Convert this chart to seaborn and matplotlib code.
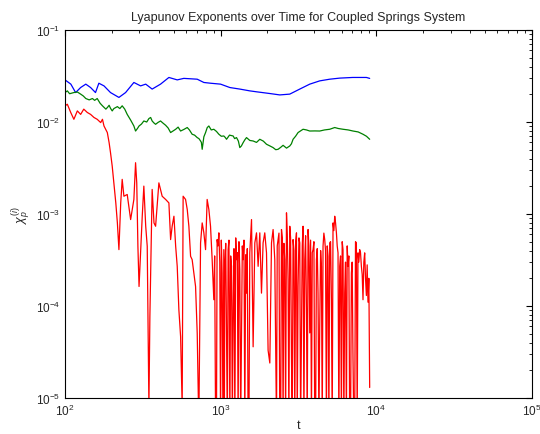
import matplotlib
matplotlib.use("Agg")
import matplotlib.pyplot as plt
import seaborn as sns

# values (t, exponent estimate)
t_blue = [100, 109, 117, 126, 136, 146, 157, 165, 178, 196, 222, 245, 277, 306, 330,
          363, 411, 465, 526, 580, 707, 780, 861, 999, 1146, 1328, 1539, 1700, 2070,
          2399, 2781, 3224, 3737, 4332, 5022, 5822, 7056, 8640, 9070]
v_blue = [0.0287, 0.0258, 0.0209, 0.0237, 0.0258, 0.0237, 0.0209, 0.0264, 0.0247,
          0.0209, 0.0185, 0.0209, 0.0269, 0.0247, 0.0258, 0.0228, 0.0258, 0.0305,
          0.0287, 0.0298, 0.0292, 0.0269, 0.0264, 0.0258, 0.0237, 0.0228, 0.0218,
          0.0213, 0.0204, 0.0197, 0.0201, 0.0228, 0.0258, 0.0280, 0.0292, 0.0300,
          0.0305, 0.0305, 0.0298]

t_green = [100, 103.5, 107, 114, 120, 126, 131, 136, 143, 150, 155, 161, 168, 174, 183,
           188, 192, 196, 201, 206, 217, 225, 233, 242, 251, 264, 270, 277, 284, 292,
           299, 310, 321, 335, 346, 355, 363, 372, 382, 396, 411, 427, 443, 460, 477,
           495, 514, 533, 553, 580, 610, 630, 656, 680, 707, 725, 743, 752, 761, 780,
           800, 820, 840, 870, 904, 940, 974, 1010, 1048, 1070, 1091, 1140, 1203, 1230,
           1265, 1300, 1328, 1360, 1395, 1430, 1466, 1540, 1617, 1700, 1785, 1880, 1971,
           2070, 2173, 2260, 2339, 2430, 2519, 2650, 2781, 2850, 2920, 3030, 3144, 3260,
           3385, 3560, 3737, 4030, 4332, 4650, 5022, 5408, 5700, 6113, 6600, 7088, 7650,
           8217, 8650, 9070]
v_green = [0.0209, 0.0218, 0.0203, 0.0209, 0.0212, 0.0201, 0.0192, 0.0180, 0.0174,
           0.0180, 0.0172, 0.0180, 0.0160, 0.0150, 0.0138, 0.0145, 0.0152, 0.0141,
           0.0132, 0.0140, 0.0147, 0.0140, 0.0150, 0.0138, 0.0121, 0.0105, 0.0098,
           0.00905, 0.00798, 0.0085, 0.00905, 0.0095, 0.01026, 0.0100, 0.0109, 0.0112,
           0.01026, 0.0098, 0.00944, 0.0099, 0.01026, 0.0097, 0.00922, 0.0086, 0.00768,
           0.0080, 0.00834, 0.0088, 0.00798, 0.0083, 0.00871, 0.0082, 0.00736, 0.0072,
           0.00677, 0.0066, 0.00622, 0.0060, 0.00505, 0.0069, 0.00768, 0.0087, 0.00905,
           0.0082, 0.00834, 0.0079, 0.00736, 0.0070, 0.00705, 0.0068, 0.00649, 0.0072,
           0.00705, 0.0066, 0.00677, 0.0062, 0.00527, 0.0055, 0.00597, 0.0064, 0.00677,
           0.0063, 0.00622, 0.0060, 0.00649, 0.0062, 0.00573, 0.0055, 0.00527, 0.0050,
           0.00505, 0.0053, 0.00558, 0.0052, 0.00549, 0.0058, 0.00649, 0.0070, 0.00768,
           0.0080, 0.00834, 0.0082, 0.00798, 0.0080, 0.00798, 0.0082, 0.00834, 0.00871,
           0.0085, 0.00834, 0.0082, 0.00798, 0.0078, 0.00736, 0.0070, 0.00649]

t_red = [100, 103.5, 108.8, 114, 120, 126, 132, 139, 146, 153.5, 161, 169.5, 174, 178,
         187, 192, 196, 201, 206, 212, 217, 222, 228, 233, 239, 251, 264, 277, 284, 289,
         294, 299, 313.5, 321, 330, 337.5, 346, 351, 363, 373, 382, 401, 421, 443, 465,
         477, 488, 501, 514, 526, 539, 553, 566, 574, 595, 610, 625, 641, 656, 673, 690,
         707, 724, 743, 761, 780, 800, 819, 840, 861, 882, 904, 928, 949, 974, 999,
         1022, 1048, 1064, 1091, 1117, 1146, 1175, 1203, 1234, 1265, 1295, 1328, 1362,
         1395, 1430, 1466, 1501, 1539, 1579, 1617, 1658, 1700, 1741, 1785, 1830, 1874,
         1921, 1971, 2018, 2070, 2122, 2173, 2228, 2285, 2339, 2399, 2460, 2519, 2583,
         2649, 2712, 2781, 2852, 2920, 2995, 3071, 3144, 3224, 3306, 3385, 3471, 3560,
         3645, 3737, 3832, 3924, 4023, 4125, 4224, 4332, 4442, 4549, 4664, 4783, 4898,
         5022, 5150, 5274, 5408, 5545, 5678, 5822, 5970, 6113, 6268, 6427, 6581, 6748,
         6920, 7088, 7265, 7450, 7630, 7823, 8022, 8217, 8424, 8640, 8845, 9070]
v_red = [0.0150, 0.0156, 0.0127, 0.0107, 0.0132, 0.0121, 0.0138, 0.0127, 0.0121,
         0.0112, 0.0107, 0.00986, 0.0107, 0.00905, 0.00768, 0.00597, 0.00465, 0.00332,
         0.00218, 0.00132, 0.0008, 0.00041, 0.00132, 0.00238, 0.00156, 0.00163,
         0.00087, 0.00144, 0.00361, 0.00218, 0.000446, 0.000163, 0.000946, 0.00201,
         0.000736, 0.000446, 8e-6, 7.7e-5, 0.00185, 0.0008, 0.000736, 0.00218, 0.00156,
         0.00144, 0.00132, 0.000527, 0.000736, 0.000946, 0.000446, 0.00027, 9.1e-5,
         4.65e-5, 8e-6, 0.00156, 0.00144, 0.00112, 0.000736, 0.000347, 0.000319,
         0.000228, 0.000163, 5.07e-5, 5e-6, 0.000485, 0.0008, 0.000624, 0.00041,
         0.00144, 0.00112, 0.000736, 0.000319, 0.000117, 5e-6, 0.000527, 0.000624,
         5e-6, 0.000228, 0.00041, 0.00027, 5.1e-5, 0.00041, 5e-6, 0.00027, 9.9e-5,
         5e-6, 0.000319, 5e-6, 0.000248, 6e-5, 0.000319, 5e-6, 0.000138, 5e-6,
         0.000378, 0.00087, 3.6e-5, 0.000485, 0.000624, 0.00027, 0.000624, 0.000138,
         0.000485, 0.000624, 0.000378, 3.3e-5, 2.4e-5, 0.000485, 0.000678, 0.000319,
         5e-6, 0.000527, 5e-6, 0.000678, 5e-6, 0.000319, 0.00103, 0.000193, 0.000736,
         2.8e-5, 0.000527, 5e-6, 0.000624, 0.000163, 0.000485, 5.1e-5, 0.000736,
         0.000319, 9.1e-5, 0.000678, 5.1e-5, 5e-6, 0.00041, 5e-6, 0.000319, 0.000138,
         6e-5, 0.00027, 0.000446, 0.000527, 5e-6, 0.000347, 0.000485, 0.000117,
         0.0008, 0.000946, 0.000624, 0.000378, 0.00027, 5e-6, 0.00041, 0.000138, 5e-6,
         0.00027, 5e-6, 0.000228, 2.6e-5, 5e-6, 0.000485, 0.000378, 0.00041, 0.00027,
         0.000117, 0.000378, 0.00013, 0.00011, 1.3e-5]

# the densely filled stretches of the red trace (many thin spikes)
t_red_dense = [915, 940, 962, 987, 1010, 1035, 1056, 1078, 1104, 1131, 1160, 1189, 1218,
               1250, 1280, 1311, 1345, 1378, 1412, 1448, 1483, 1520,
               2310, 2370, 2430, 2490, 2550, 2615, 2680, 2745, 2815, 2885, 2960, 3035,
               3105, 3185, 3265, 3345, 3428, 3515, 3600, 3690, 3785, 3878, 3975, 4075,
               4175, 4280, 4390, 4495, 4605, 4720, 4840, 4960, 5085, 5210, 5340, 5475,
               5610, 5750, 5895, 6040, 6190, 6345, 6505, 6665, 6835, 7000, 7175, 7355,
               7540, 7725, 7920, 8120, 8320, 8530, 8740, 8960]
v_red_dense = [0.00035, 5e-6, 0.00045, 0.0003, 0.00052, 5e-6, 5e-6, 0.00048, 5e-6,
               0.00052, 0.00035, 5e-6, 0.00042, 0.00055, 0.00038, 0.0005, 5e-6, 0.00045,
               0.00052, 0.00036, 0.00042, 5e-6,
               0.00045, 0.00062, 5e-6, 0.00055, 0.00048, 5e-6, 0.0006, 5e-6, 0.00055,
               5e-6, 0.0004, 0.0005, 5e-6, 0.00055, 5e-6, 0.00045, 5e-6, 0.00058, 5e-6,
               0.00045, 0.00052, 0.00038, 0.0005, 5e-6, 0.00042, 5e-6, 0.0004, 5e-6,
               0.00062, 0.0004, 0.00045, 5e-6, 0.0005, 5e-6, 0.00066, 0.0008, 0.00045,
               5e-6, 0.00035, 0.0005, 5e-6, 0.0003, 0.00045, 0.00035, 5e-6, 0.0003, 5e-6,
               0.0005, 5e-6, 0.0003, 0.00038, 0.00022, 0.0003, 0.0002, 0.00028, 0.0002]

sns.set_style("white")
plt.rcParams['font.family'] = ['Liberation Sans', 'DejaVu Sans']
plt.rcParams['mathtext.fontset'] = 'custom'
plt.rcParams['mathtext.rm'] = 'Liberation Sans'
plt.rcParams['mathtext.it'] = 'Liberation Sans:italic'

fig = plt.figure(figsize=(5.4, 4.35), dpi=100)
ax = fig.add_axes([0.1204, 0.0828, 0.8646, 0.8459])

sns.lineplot(x=t_blue, y=v_blue, color=(0, 0, 1), linewidth=0.9, estimator=None, ax=ax)
sns.lineplot(x=t_green, y=v_green, color=(0, 0.5, 0), linewidth=0.9, estimator=None, ax=ax)
# lineplot sorts by t, so the dense spikes slot in between the main readings
sns.lineplot(x=t_red + t_red_dense, y=v_red + v_red_dense, color=(1, 0, 0),
             linewidth=0.9, estimator=None, ax=ax)

ax.set_xscale('log')
ax.set_yscale('log')
ax.set_xlim(1e2, 1e5)
ax.set_ylim(1e-5, 1e-1)

ax.tick_params(which='both', direction='in', top=True, right=True, labelsize=8.5,
               color='black')
ax.tick_params(which='major', length=4)
ax.tick_params(which='minor', length=2)
for s in ax.spines.values():
    s.set_color('black')
    s.set_linewidth(0.8)

ax.set_title('Lyapunov Exponents over Time for Coupled Springs System', fontsize=9, pad=7)
ax.set_xlabel('t', fontsize=9, labelpad=1)
ax.set_ylabel(r'$\chi_p^{(i)}$', fontsize=9, labelpad=2)

fig.savefig('out.png', dpi=100)
